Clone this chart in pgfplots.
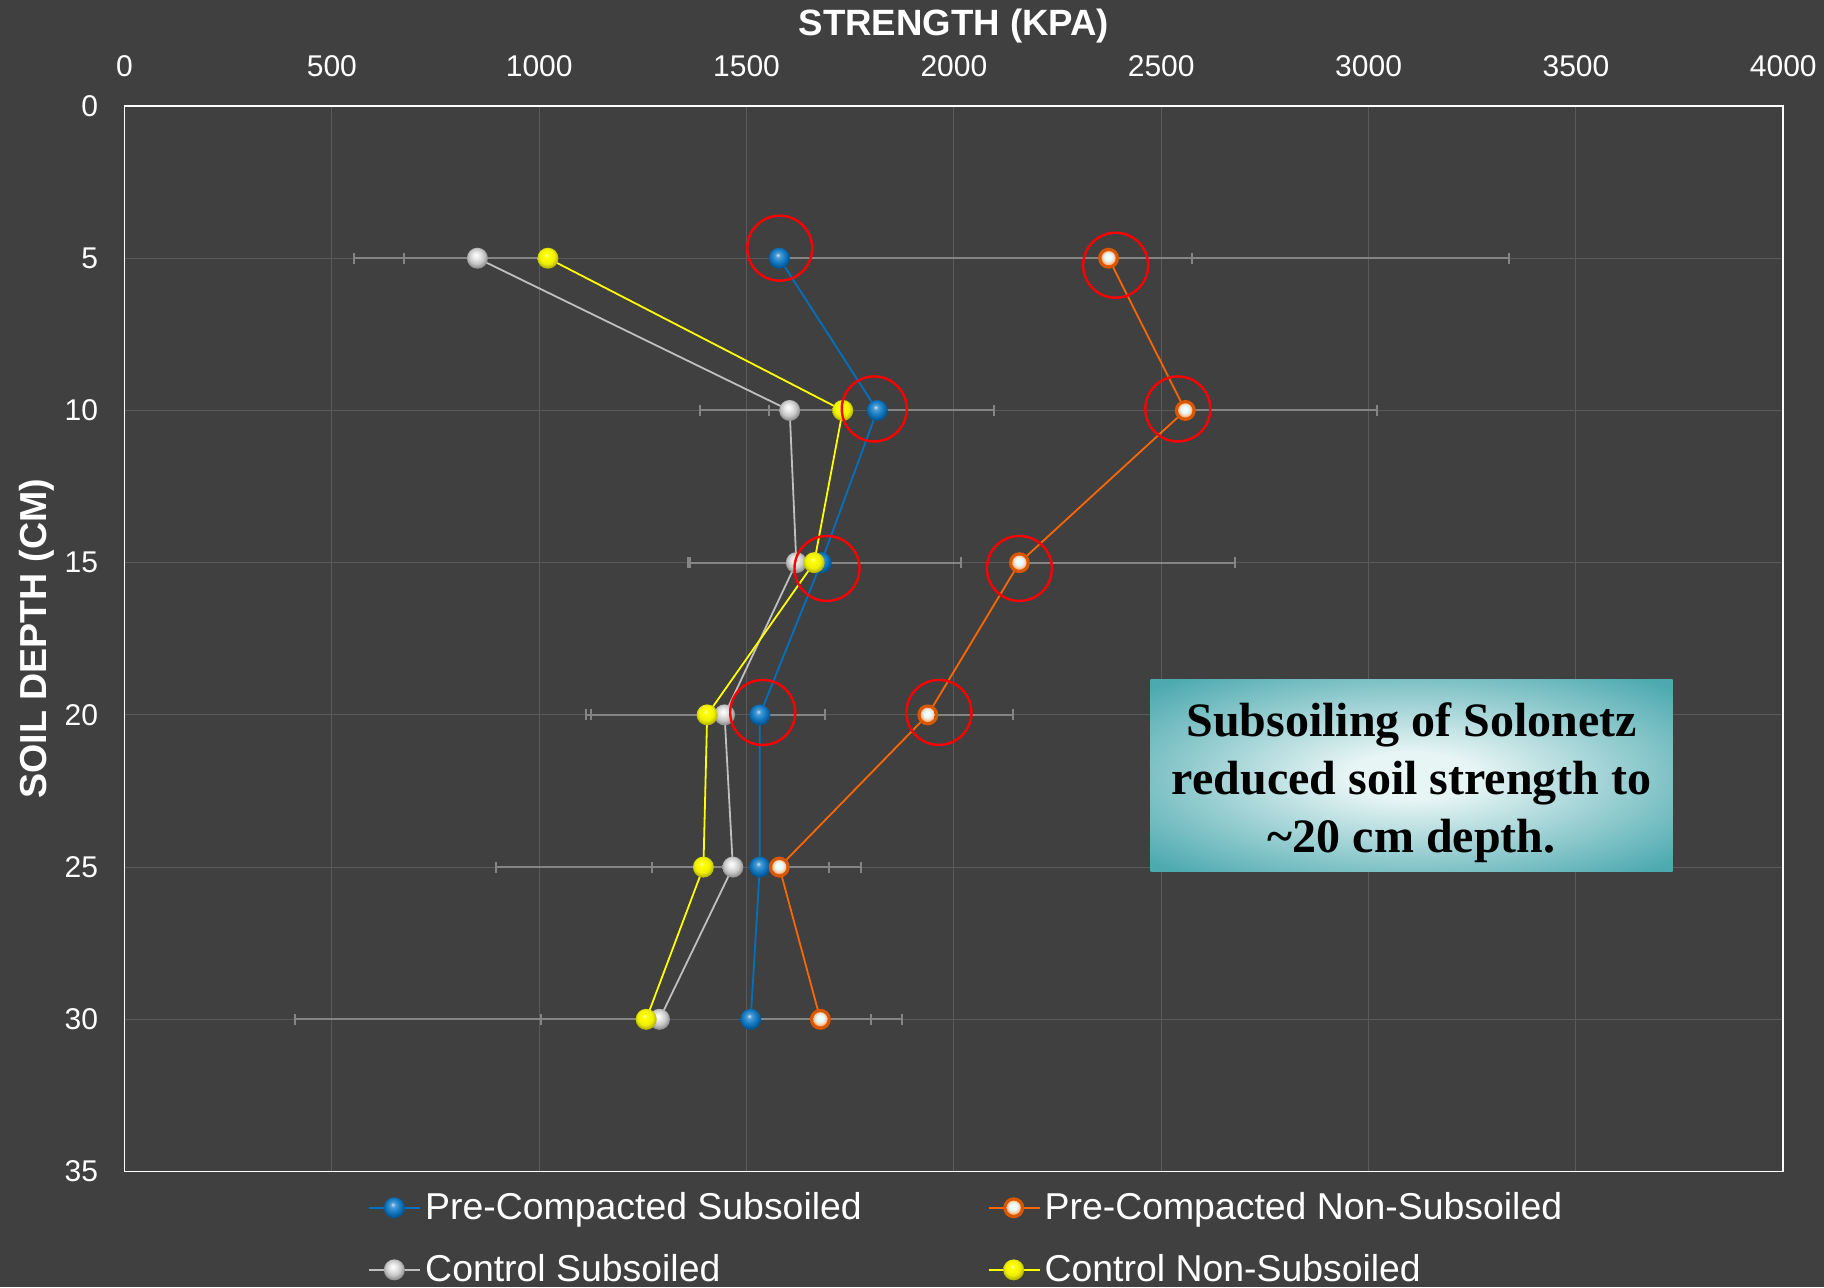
\documentclass[border=0pt]{standalone}
\usepackage{pgfplots}
\pgfplotsset{compat=1.18}
\usepackage{fontspec}
\setmainfont{Liberation Sans}
\newfontfamily\serifbf{Liberation Serif}
\definecolor{bg}{HTML}{404040}
\definecolor{gridc}{HTML}{5A5A5A}
\definecolor{errc}{HTML}{858585}
\definecolor{cblue}{RGB}{0,112,192}
\definecolor{corange}{RGB}{255,102,0}
\definecolor{cwhite}{RGB}{191,191,191}
\definecolor{cyellow}{RGB}{255,255,0}
\definecolor{boxc0}{HTML}{E8F5F5}
\definecolor{boxc1}{HTML}{4BA9AF}
\pgfdeclareradialshading{boxshade}{\pgfpointorigin}{color(0bp)=(boxc0); color(6bp)=(boxc0); color(34bp)=(boxc1); color(50bp)=(boxc1)}
\pgfdeclareradialshading{blueballshade}{\pgfpoint{-4bp}{8bp}}{color(0bp)=(cblue!20!white); color(6bp)=(cblue!70!white); color(15bp)=(cblue!90!white); color(25bp)=(cblue!80!black); color(50bp)=(cblue!45!black)}
\pgfdeclareradialshading{whiteballshade}{\pgfpoint{-4bp}{8bp}}{color(0bp)=(white); color(8bp)=(white!92!black); color(18bp)=(white!78!black); color(25bp)=(white!60!black); color(50bp)=(white!30!black)}
\pgfdeclareradialshading{yellowballshade}{\pgfpoint{-4bp}{8bp}}{color(0bp)=(cyellow!30!white); color(6bp)=(cyellow); color(18bp)=(cyellow!94!black); color(25bp)=(cyellow!75!black); color(50bp)=(cyellow!40!black)}
\pgfdeclareradialshading{orangeinnershade}{\pgfpoint{-2bp}{6bp}}{color(0bp)=(white); color(12bp)=(white!88!cyan); color(22bp)=(corange!35!white); color(25bp)=(corange!60!white); color(50bp)=(corange)}
\pgfdeclareplotmark{bball}{\pgfpathcircle{\pgfpointorigin}{\pgfplotmarksize}\pgfshadepath{blueballshade}{0}\pgfusepath{}}
\pgfdeclareplotmark{wball}{\pgfpathcircle{\pgfpointorigin}{\pgfplotmarksize}\pgfshadepath{whiteballshade}{0}\pgfusepath{}}
\pgfdeclareplotmark{yball}{\pgfpathcircle{\pgfpointorigin}{\pgfplotmarksize}\pgfshadepath{yellowballshade}{0}\pgfusepath{}}
\pgfdeclareplotmark{oball}{\pgfpathcircle{\pgfpointorigin}{\pgfplotmarksize}\pgfsetfillcolor{corange!85!black}\pgfusepathqfill
  \pgfpathcircle{\pgfpointorigin}{0.68\pgfplotmarksize}\pgfshadepath{orangeinnershade}{0}\pgfusepath{}}

% depth, strength, error
\pgfplotstableread{
d s e
5 1579 994
10 1815 282
15 1680 336
20 1532 156
25 1532 168
30 1510 289
}\tblue
\pgfplotstableread{
d s e
5 2373 966
10 2558 462
15 2158 519
20 1937 206
25 1579 196
30 1678 196
}\torange
\pgfplotstableread{
d s e
5 851 298
10 1604 217
15 1620 256
20 1447 323
25 1467 195
30 1290 285
}\twhite
\pgfplotstableread{
d s e
5 1021 346
10 1732 178
15 1663 303
20 1405 291
25 1396 501
30 1258 846
}\tyellow

\begin{document}
\begin{tikzpicture}
\path[use as bounding box, fill=bg] (-62.25pt,-57.75pt) rectangle (849.75pt,585.75pt);
\begin{axis}[
  at={(0,0)}, anchor=south west, scale only axis,
  width=829.4pt, height=532.75pt,
  xmin=0, xmax=4000, ymin=0, ymax=35, y dir=reverse,
  xtick={0,500,...,4000}, ytick={0,5,...,35},
  xticklabel pos=upper,
  grid=major, major grid style={gridc, line width=0.5pt},
  axis line style={white, line width=0.9pt},
  major tick length=0pt,
  tick label style={white, font=\fontsize{15}{18}\selectfont},
  /pgf/number format/assume math mode=true,
  /pgf/number format/1000 sep={},
  xticklabel style={anchor=center, yshift=20pt},
  yticklabel style={anchor=east, inner sep=0pt, xshift=-13pt},
  every axis title shift=0pt,
  title={STRENGTH (KPA)},
  title style={at={(axis description cs:0.5,1.0755)}, anchor=center, white, font=\bfseries\fontsize{18.3}{22}\selectfont},
  ylabel={SOIL DEPTH (CM)},
  ylabel style={at={(axis description cs:-0.0531,0.5)}, anchor=center, white, font=\bfseries\fontsize{18.8}{22}\selectfont},
  legend columns=2,
  legend cell align=left,
  legend style={at={(axis description cs:0.1432,-0.012)}, anchor=north west, draw=none, fill=none,
    text=white, font=\fontsize{18.7}{22}\selectfont,
    /tikz/every even column/.append style={column sep=61pt}, row sep=12pt},
  legend image code/.code={\draw[#1] (0pt,0pt) -- (22pt,0pt); \draw[mark repeat=2,mark phase=2,#1] plot coordinates {(0pt,0pt) (12.5pt,0pt) (25pt,0pt)}; \path (22pt,0pt) -- (25.5pt,0pt);},
  error bars/error bar style={errc, line width=1pt},
  error bars/error mark options={errc, line width=1pt, mark size=2.75pt, rotate=90},
]
\addplot[cblue, line width=0.9pt, mark=bball, mark size=5.25pt,
  error bars/.cd, x dir=plus, x explicit] table[x=s, y=d, x error=e] {\tblue};
\addlegendentry{Pre-Compacted Subsoiled}
\addplot[corange, line width=0.9pt, mark=oball, mark size=5.25pt,
  error bars/.cd, x dir=plus, x explicit] table[x=s, y=d, x error=e] {\torange};
\addlegendentry{Pre-Compacted Non-Subsoiled}
\addplot[cwhite, line width=0.9pt, mark=wball, mark size=5.25pt,
  error bars/.cd, x dir=minus, x explicit] table[x=s, y=d, x error=e] {\twhite};
\addlegendentry{Control Subsoiled}
\addplot[cyellow, line width=0.9pt, mark=yball, mark size=5.25pt,
  error bars/.cd, x dir=minus, x explicit] table[x=s, y=d, x error=e] {\tyellow};
\addlegendentry{Control Non-Subsoiled}
\addplot[forget plot, only marks, mark=o, mark size=16.25pt, mark options={red, line width=1.2pt}] coordinates {
  (1580,4.67) (2390,5.23) (1808,9.95) (2540,9.95) (1694,15.19) (2158,15.19) (1539,19.92) (1964,19.92)};
\node[shading=boxshade, minimum width=261pt, minimum height=96pt, inner sep=0pt] at (axis cs:3104,22) {};
\node[align=center, inner sep=0pt, yshift=-3.5pt,
  font=\serifbf\bfseries\fontsize{24}{29}\selectfont, text=black] at (axis cs:3104,22)
  {Subsoiling of Solonetz\\reduced soil strength to\\{\char`\~}20 cm depth.};
\end{axis}
\end{tikzpicture}
\end{document}
